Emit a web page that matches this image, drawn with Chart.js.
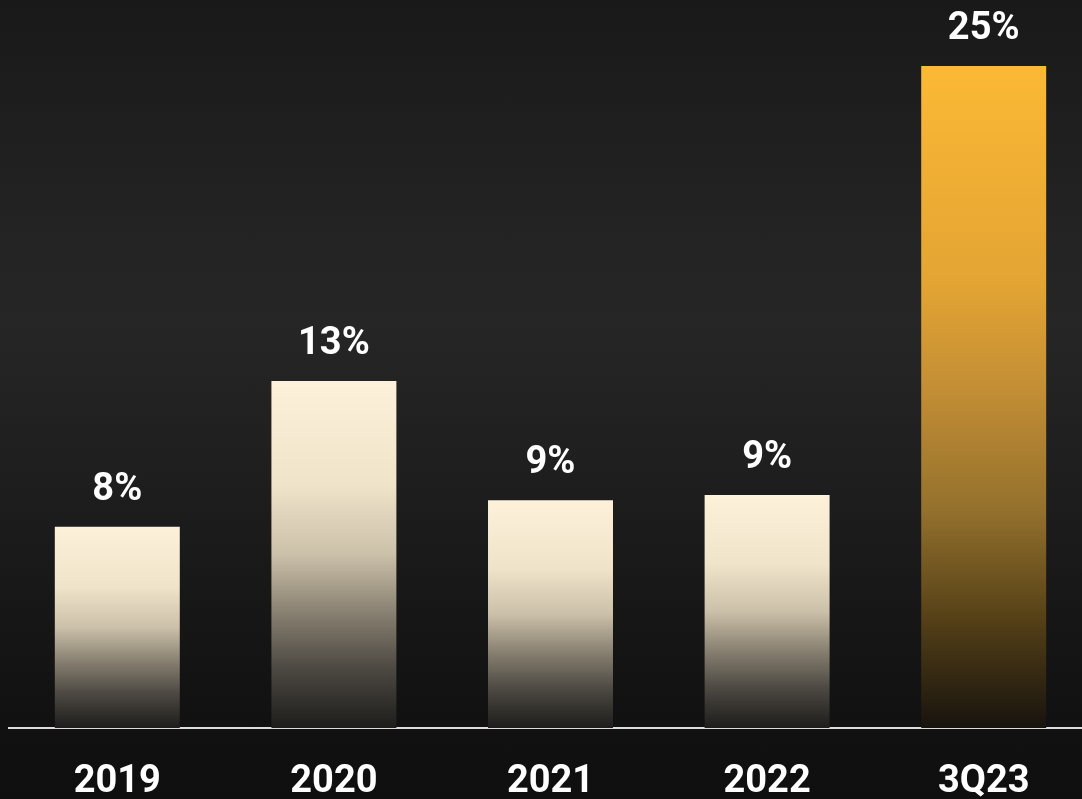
<!DOCTYPE html>
<html>
<head>
<meta charset="utf-8">
<script src="https://cdn.jsdelivr.net/npm/chart.js@4.4.0/dist/chart.umd.min.js"></script>
<style>
  html, body { margin: 0; padding: 0; width: 1082px; height: 799px; overflow: hidden;
    background: linear-gradient(to bottom, #191919 0%, #222222 25%, #262626 40%, #1e1e1e 60%, #151515 80%, #111111 91%, #0f0f0f 100%); }
  #wrap { position: absolute; left: 0; top: 0; width: 1092px; height: 837px; }
</style>
</head>
<body>
<div id="wrap"><canvas id="c"></canvas></div>
<script>
const categories = ['2019', '2020', '2021', '2022', '3Q23'];
const values = [7.6, 13.1, 8.6, 8.8, 25.0];
const valueLabels = ['8%', '13%', '9%', '9%', '25%'];

const creamStops = [[0, '#fdf1da'], [0.3, '#efe3c9'], [0.5, '#cbc0a9'], [0.67, '#877f70'], [0.83, '#4c4842'], [1, '#1e1d1b']];
const goldStops = [[0, '#fbb935'], [0.33, '#e3a433'], [0.5, '#c08c35'], [0.67, '#94712d'], [0.83, '#574218'], [1, '#17130e']];

const FONT = 'Roboto, "Liberation Sans", sans-serif';

const labelPlugin = {
  id: 'valueLabels',
  afterDatasetsDraw(chart) {
    const ctx = chart.ctx;
    const meta = chart.getDatasetMeta(0);
    ctx.save();
    ctx.fillStyle = '#ffffff';
    ctx.font = 'bold 38px ' + FONT;
    ctx.textAlign = 'center';
    ctx.textBaseline = 'alphabetic';
    meta.data.forEach((bar, i) => {
      ctx.fillText(valueLabels[i], bar.x, bar.y - 27);
    });
    ctx.restore();
  }
};

new Chart(document.getElementById('c'), {
  type: 'bar',
  data: {
    labels: categories,
    datasets: [{
      data: values,
      backgroundColor(ctx) {
        const chart = ctx.chart;
        if (!chart.chartArea || ctx.type !== 'data') return '#fdf1da';
        const ys = chart.scales.y;
        const top = ys.getPixelForValue(ctx.raw);
        const bottom = ys.getPixelForValue(0);
        const g = chart.ctx.createLinearGradient(0, top, 0, bottom);
        const stops = ctx.dataIndex === categories.length - 1 ? goldStops : creamStops;
        stops.forEach(s => g.addColorStop(s[0], s[1]));
        return g;
      },
      borderWidth: 0,
      barPercentage: 0.577,
      categoryPercentage: 1.0
    }]
  },
  options: {
    responsive: true,
    maintainAspectRatio: false,
    animation: false,
    layout: { padding: { left: 9, right: 0, top: 66, bottom: 1 } },
    plugins: { legend: { display: false }, tooltip: { enabled: false } },
    scales: {
      x: {
        grid: { display: false, drawTicks: false },
        border: { display: true, color: '#dcdcdc', width: 2 },
        ticks: { color: '#ffffff', padding: 35, font: { family: FONT, size: 38, weight: 'bold', lineHeight: 1 } }
      },
      y: {
        display: false,
        min: 0,
        max: 25
      }
    }
  },
  plugins: [labelPlugin]
});
</script>
</body>
</html>
